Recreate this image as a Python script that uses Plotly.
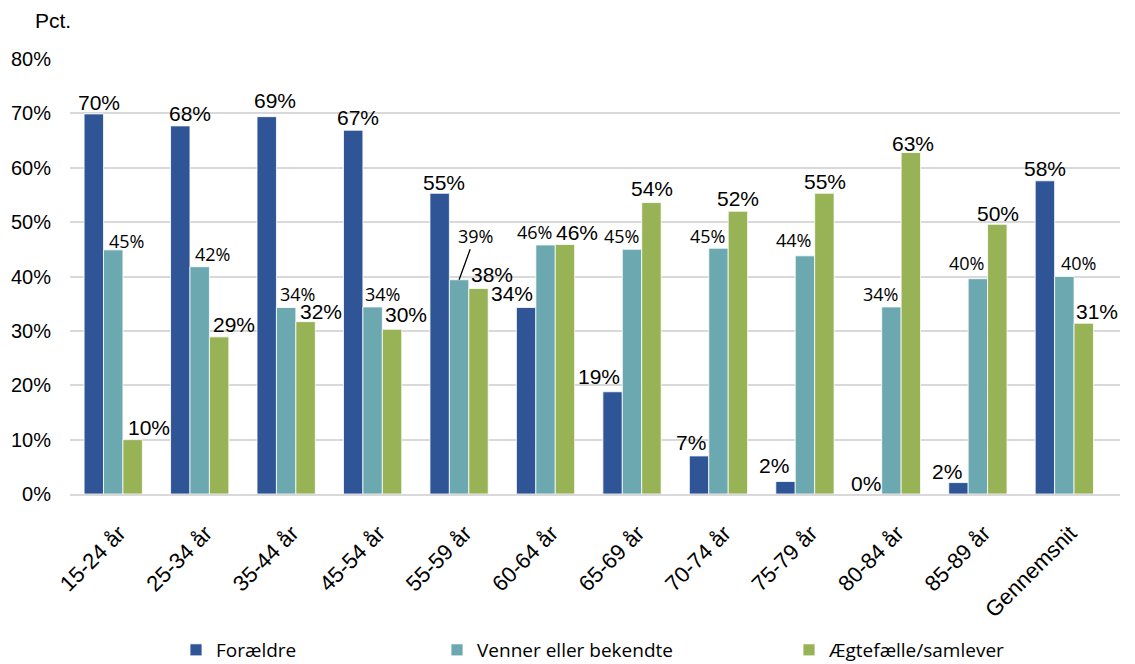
import plotly.graph_objects as go

# data (in %)
categories = ["15-24 år", "25-34 år", "35-44 år", "45-54 år", "55-59 år", "60-64 år",
              "65-69 år", "70-74 år", "75-79 år", "80-84 år", "85-89 år", "Gennemsnit"]
foraeldre = [69.9, 67.7, 69.4, 66.9, 55.3, 34.3, 18.8, 7.0, 2.3, 0.0, 2.1, 57.6]
venner = [44.9, 41.8, 34.3, 34.4, 39.4, 45.8, 45.0, 45.2, 43.8, 34.4, 39.6, 40.0]
aegtefaelle = [10.0, 28.9, 31.7, 30.3, 37.8, 45.9, 53.6, 52.0, 55.3, 62.8, 49.6, 31.4]
y_ticks = [0, 10, 20, 30, 40, 50, 60, 70, 80]
y_ticktext = [f"{v}%" for v in y_ticks]

# label nudges in px (dx right, up above bar top), like the hand-placed Excel labels
blue_dx = [5, 10, 8, 5, 5, -14, -13, -8, -11, -6, -11, 0]
blue_up = [11, 12, 16, 13, 11, 14, 15, 13, 16, 11, 11, 12]
teal_dx = [13, 13, 11, 10, 16, -11, -11, -11, -11, -11, -11, 14]
teal_up = [9, 13, 13, 13, 44, 13, 13, 12, 16, 13, 16, 14]
green_dx = [16, 15, 15, 14, 13, 12, 0, 0, 0, 2, 0, 13]
green_up = [12, 12, 10, 15, 14, 12, 14, 13, 12, 9, 11, 12]

BLUE, TEAL, GREEN = "#2F5597", "#6CA8B0", "#98B356"
ARIAL = "Liberation Sans, Arial, sans-serif"
CAL = "Open Sans, Noto Sans, sans-serif"

# the html page has an 8px body margin, so the figure is 8px smaller each way
W, H = 1127, 656
ML, MR, MT, MB = 62, 15, 51, 170
PW, PH = W - ML - MR, H - MT - MB

BARGAP = 0.326
cat_px = PW / len(categories)
bar_px = cat_px * (1 - BARGAP) / 3

series = [
    ("Forældre", foraeldre, BLUE, "legend", blue_dx, blue_up, -bar_px, ARIAL, 21),
    ("Venner eller bekendte", venner, TEAL, "legend2", teal_dx, teal_up, 0, CAL, 18),
    ("Ægtefælle/samlever", aegtefaelle, GREEN, "legend3", green_dx, green_up, bar_px, ARIAL, 21),
]

fig = go.Figure()
annotations = []
for name, vals, col, leg, dx, up, off, fnt, fsize in series:
    fig.add_trace(go.Bar(x=categories, y=vals, name=name, marker_color=col,
                         marker_line={"color": "white", "width": 0.8},
                         legend=leg, showlegend=True))
    for i, (c, v) in enumerate(zip(categories, vals)):
        a = dict(x=c, y=v, text=f"{v:.0f}%", xref="x", yref="y",
                 font={"family": fnt, "size": fsize, "color": "#000"})
        if name.startswith("Venner") and c == "55-59 år":
            # label lifted away from the bar with a leader line
            a.update(showarrow=True, arrowhead=0, arrowwidth=1.3, arrowcolor="#000",
                     ax=dx[i], ay=-up[i], xshift=off)
        else:
            a.update(showarrow=False, xanchor="center", yanchor="middle",
                     xshift=off + dx[i], yshift=up[i])
        annotations.append(a)

# positions below in page px, relative to plot area (left 70, top 59, bottom 494)
annotations.append(dict(text="Pct.", x=(33 - 70) / PW, y=1 + (59 - 20) / PH,
                        xref="paper", yref="paper", showarrow=False,
                        xanchor="left", yanchor="middle",
                        font={"family": ARIAL, "size": 21, "color": "#000"}))

leg_common = dict(orientation="h", yanchor="middle", y=-(650 - 494) / PH, xanchor="left",
                  font={"family": CAL, "size": 19, "color": "#000"}, bgcolor="rgba(0,0,0,0)")
fig.update_layout(
    barmode="group",
    bargap=BARGAP,
    bargroupgap=0,
    width=W,
    height=H,
    margin={"l": ML, "r": MR, "t": MT, "b": MB, "autoexpand": False},
    plot_bgcolor="white",
    paper_bgcolor="white",
    showlegend=True,
    annotations=annotations,
    legend={**leg_common, "x": (176 - 70) / PW},
    legend2={**leg_common, "x": (437 - 70) / PW},
    legend3={**leg_common, "x": (789 - 70) / PW},
    xaxis={
        "type": "category",
        "tickangle": -45,
        "tickfont": {"family": ARIAL, "size": 22, "color": "#000"},
        "showline": True,
        "linecolor": "#d9d9d9",
        "linewidth": 1.5,
        "ticks": "",
        "ticklabelstandoff": 16,
        "ticklabelshift": 6,
        "automargin": False,
    },
    yaxis={
        "range": [0, 80],
        "tickmode": "array",
        "tickvals": y_ticks,
        "ticktext": y_ticktext,
        "tickfont": {"family": ARIAL, "size": 20, "color": "#000"},
        "gridcolor": "#d9d9d9",
        "gridwidth": 1.5,
        "zeroline": False,
        "ticklabelstandoff": 18,
        "automargin": False,
    },
)

fig.write_html("out.html")
